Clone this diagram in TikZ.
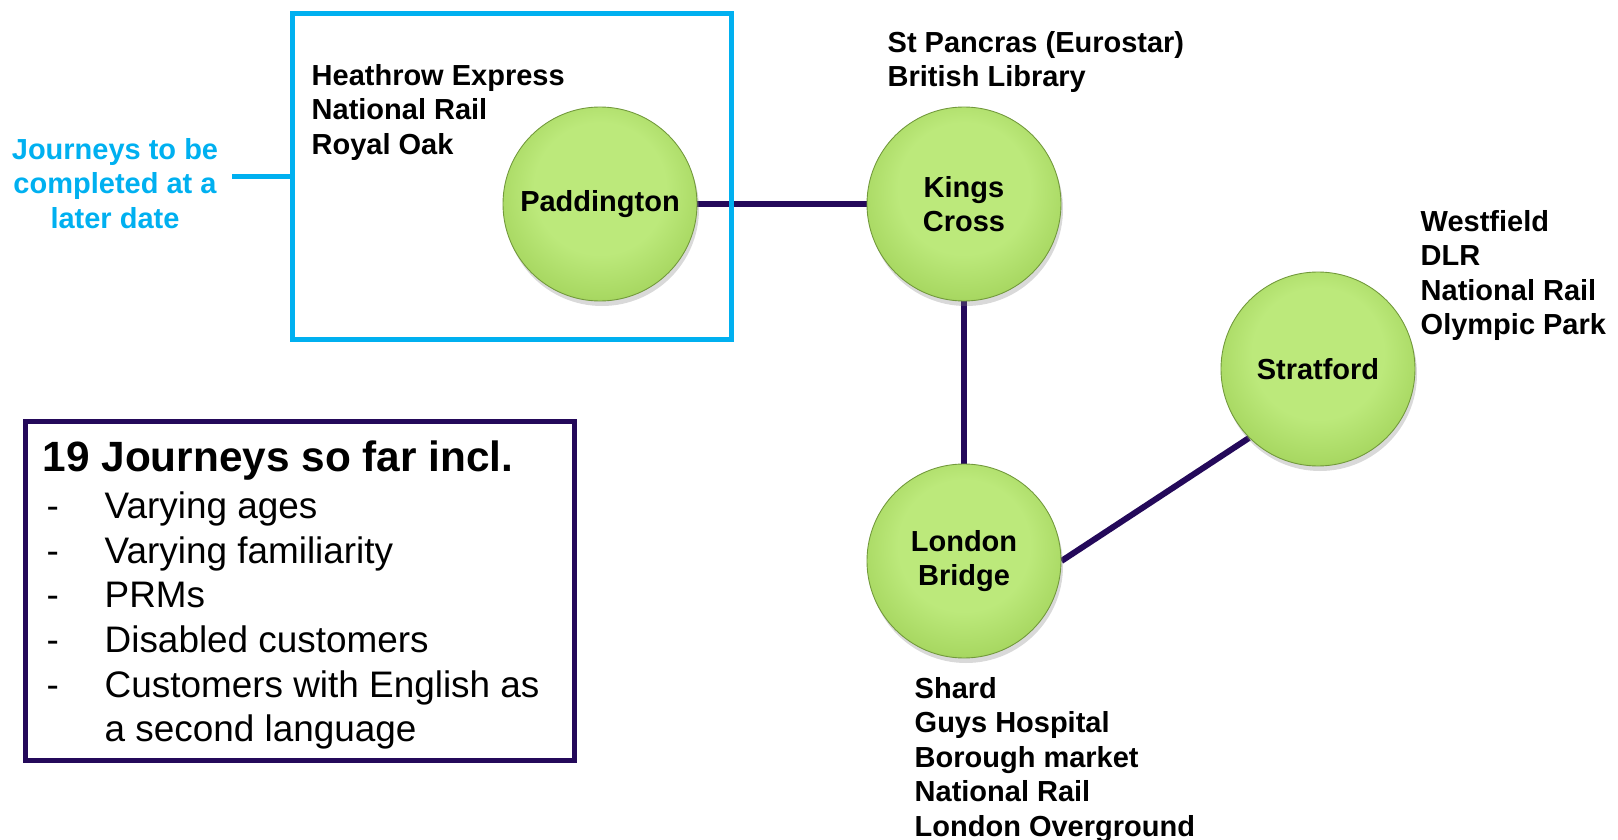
\documentclass[tikz,border=0pt]{standalone}
\usepackage{fontspec}
\setmainfont{Liberation Sans}
\usetikzlibrary{positioning, shadows, backgrounds}

\definecolor{tubeline}{HTML}{24095A}
\definecolor{laterblue}{HTML}{00B0F0}
\definecolor{ballhi}{HTML}{BCE97B}
\definecolor{ballmid}{HTML}{A8D862}
\definecolor{ballrim}{HTML}{86B446}

\pgfdeclareradialshading{stationball}{\pgfpoint{0bp}{6bp}}{%
  color(0bp)=(ballhi); color(17bp)=(ballhi); color(27bp)=(ballmid);
  color(31bp)=(ballrim); color(50bp)=(ballrim)}

\newcommand{\labelfont}{\fontsize{8.25}{9.8}\selectfont\bfseries}

\tikzset{
  station/.style={circle, minimum size=1.94cm, inner sep=0pt, shading=stationball,
    draw=ballrim!85!black, line width=0.25pt, align=center, font=\labelfont,
    drop shadow={opacity=0.3, shadow xshift=0.02cm, shadow yshift=-0.05cm}},
  track/.style={tubeline, line width=0.06cm},
  placelist/.style={font=\labelfont, align=left, inner sep=0pt, anchor=north west},
  laterbox/.style={draw=laterblue, line width=0.05cm, inner sep=0pt},
  listbox/.style={draw=tubeline, line width=0.045cm, inner sep=0pt},
  listitem/.style={font=\fontsize{10.5}{12.7}\selectfont, inner sep=0pt, anchor=base west}
}

\begin{document}
\begin{tikzpicture}
    \useasboundingbox (0,0) rectangle (16.18,-8.40);

    % Stations
    \node[station] (paddington) at (6.00,-2.04) {Paddington};
    \node[station] (kings) at (9.64,-2.04) {Kings\\Cross};
    \node[station] (bridge) at (9.64,-5.61) {London\\Bridge};
    \node[station] (stratford) at (13.18,-3.69) {Stratford};

    % Tracks between stations, behind the circles
    \begin{scope}[on background layer]
        \draw[track] (paddington) -- (kings);
        \draw[track] (kings) -- (bridge);
        \draw[track] (bridge.east) -- (stratford.south west);
    \end{scope}

    % Places served by each station
    \node[placelist] (padlist) at (3.11,-0.636) {Heathrow Express\\National Rail\\Royal Oak};
    \node[placelist] (kingslist) at (8.87,-0.306) {St Pancras (Eurostar)\\British Library};
    \node[placelist] (stratlist) at (14.20,-2.096) {Westfield\\DLR\\National Rail\\Olympic Park};
    \node[placelist] (bridgelist) at (9.14,-6.766) {Shard\\Guys Hospital\\Borough market\\National Rail\\London Overground};

    % Journeys still to do
    \node[laterbox, minimum width=4.39cm, minimum height=3.26cm] (later) at (5.12,-1.765) {};
    \node[font=\labelfont, text=laterblue, align=center, inner sep=0pt, anchor=north] (delayed) at (1.15,-1.376)
        {Journeys to be\\completed at a\\later date};
    \coordinate (stub) at (2.32,-1.765);
    \draw[laterblue, line width=0.05cm] (later.west) -- (stub);

    % Summary of journeys
    \node[listbox, minimum width=5.49cm, minimum height=3.39cm] (summary) at (3.00,-5.91) {};
    \node[font=\fontsize{12.05}{14}\selectfont\bfseries, inner sep=0pt, anchor=base west] (heading) at (0.42,-4.713) {19 Journeys so far incl.};
    \foreach \txt [count=\i] in {Varying ages, Varying familiarity, PRMs, Disabled customers, Customers with English as} {
        \node[listitem] (dash\i) at (0.46,{-5.183-0.447*(\i-1)}) {-};
        \node[listitem] (item\i) at (1.04,{-5.183-0.447*(\i-1)}) {\txt};
    }
    \node[listitem] (item6) at (1.04,-7.418) {a second language};
\end{tikzpicture}
\end{document}
